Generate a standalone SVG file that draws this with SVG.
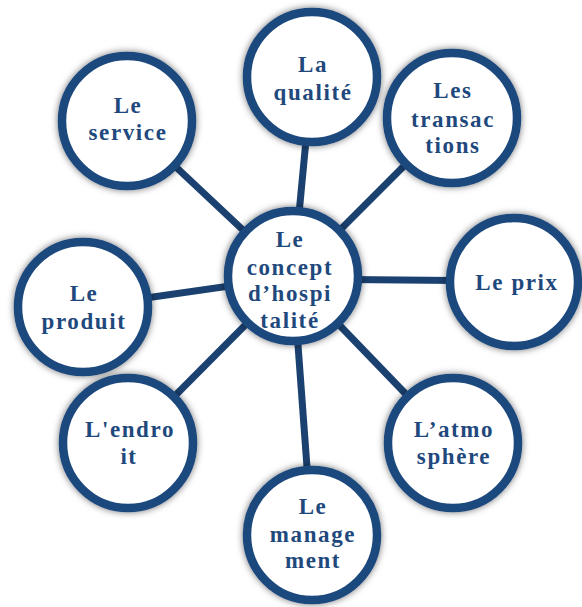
<svg xmlns="http://www.w3.org/2000/svg" width="582" height="607" viewBox="0 0 582 607">
  <defs>
    <filter id="glow" x="-30%" y="-30%" width="160%" height="160%">
      <feDropShadow dx="0" dy="0" stdDeviation="3.5" flood-color="#000000" flood-opacity="0.55"/>
    </filter>
  </defs>
  <style>
    .node circle { fill: #ffffff; stroke: #1F497D; stroke-width: 8.5; }
    .node text { font-family: "Liberation Serif", "Times New Roman", serif; font-weight: bold; font-size: 23px; fill: #1F497D; text-anchor: middle; letter-spacing: 1.6px; }
    .conn line { stroke: #1B4170; stroke-width: 7; stroke-linecap: butt; }
  </style>
  <rect width="582" height="607" fill="#ffffff"/>
  <g id="connectors" class="conn">
    <line x1="293" y1="277" x2="127" y2="121"/>
    <line x1="293" y1="277" x2="312" y2="77"/>
    <line x1="293" y1="277" x2="452" y2="118"/>
    <line x1="293" y1="279" x2="514" y2="281"/>
    <line x1="293" y1="277" x2="83" y2="307"/>
    <line x1="293" y1="277" x2="128" y2="443"/>
    <line x1="293" y1="277" x2="312" y2="535"/>
    <line x1="293" y1="277" x2="453" y2="443"/>
  </g>
  <g id="node-service" class="node">
    <circle cx="127" cy="121" r="65" filter="url(#glow)"/>
    <text x="128" y="113">Le</text>
    <text x="128" y="140">service</text>
  </g>
  <g id="node-qualite" class="node">
    <circle cx="312" cy="77" r="65" filter="url(#glow)"/>
    <text x="313" y="72">La</text>
    <text x="313" y="100">qualité</text>
  </g>
  <g id="node-transactions" class="node">
    <circle cx="452" cy="118" r="65" filter="url(#glow)"/>
    <text x="453" y="98">Les</text>
    <text x="453" y="127">transac</text>
    <text x="453" y="153">tions</text>
  </g>
  <g id="node-prix" class="node">
    <circle cx="514" cy="282" r="64" filter="url(#glow)"/>
    <text x="517" y="290" letter-spacing="1">Le prix</text>
  </g>
  <g id="node-produit" class="node">
    <circle cx="83" cy="307" r="65" filter="url(#glow)"/>
    <text x="84" y="301">Le</text>
    <text x="84" y="329">produit</text>
  </g>
  <g id="node-endroit" class="node">
    <circle cx="128" cy="443" r="65" filter="url(#glow)"/>
    <text x="130" y="437">L'endro</text>
    <text x="129" y="464">it</text>
  </g>
  <g id="node-management" class="node">
    <circle cx="312" cy="535" r="65" filter="url(#glow)"/>
    <text x="313" y="514">Le</text>
    <text x="313" y="542">manage</text>
    <text x="313" y="568">ment</text>
  </g>
  <g id="node-atmosphere" class="node">
    <circle cx="453" cy="443" r="65" filter="url(#glow)"/>
    <text x="454" y="437">L’atmo</text>
    <text x="454" y="464">sphère</text>
  </g>
  <g id="node-center" class="node">
    <circle cx="293" cy="276" r="65" filter="url(#glow)"/>
    <text x="290" y="247">Le</text>
    <text x="290" y="275">concept</text>
    <text x="290" y="301">d’hospi</text>
    <text x="290" y="328">talité</text>
  </g>
</svg>
